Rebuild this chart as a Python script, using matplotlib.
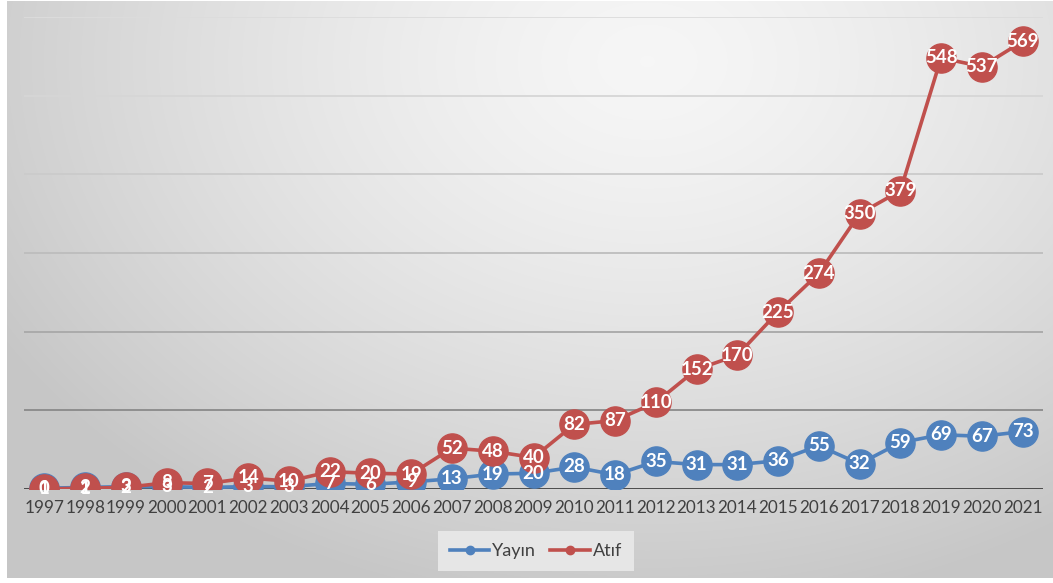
import numpy as np
import matplotlib.pyplot as plt

years = [str(y) for y in range(1997, 2022)]
yayin = [1, 2, 3, 3, 2, 3, 3, 7, 6, 9, 13, 19, 20, 28, 18, 35, 31, 31, 36, 55, 32, 59, 69, 67, 73]
atif = [0, 1, 2, 8, 7, 14, 10, 22, 20, 19, 52, 48, 40, 82, 87, 110, 152, 170, 225, 274, 350, 379, 548, 537, 569]

blue = '#4F81BD'
red = '#C0504D'
plt.rcParams['font.family'] = ['Lato', 'DejaVu Sans']

W, H = 1053, 583
fig = plt.figure(figsize=(W / 100, H / 100), dpi=100)
fig.patch.set_facecolor('white')

# radial grey background of the chart area
bg = fig.add_axes([7 / W, 5 / H, (W - 7) / W, (H - 6) / H])
yy, xx = np.mgrid[0:H - 6, 0:W - 7]
r = np.sqrt(((xx - 640) / 760.0) ** 2 + ((yy - 60) / 560.0) ** 2)
shade = np.clip(0.965 - 0.19 * r ** 1.4, 0.78, 0.97)
bg.imshow(np.dstack([shade] * 3), aspect='auto', interpolation='bilinear')
bg.axis('off')

ax = fig.add_axes([24 / W, 94 / H, 1019 / W, 472 / H])
ax.set_facecolor('none')
x = np.arange(len(years))
ax.set_xlim(-0.5, len(years) - 0.5)
ax.set_ylim(0, 600)

grid_colors = ['#8a8a8a', '#a8a8a8', '#bdbdbd', '#cbcbcb', '#d6d6d6', '#dcdcdc']
for v, c in zip(range(100, 700, 100), grid_colors):
    ax.axhline(v, color=c, lw=1.3, zorder=1)
ax.axhline(0, color='#404040', lw=1.3, zorder=1)

ax.plot(x, yayin, color=blue, lw=2.6, marker='o', ms=21, label='Yayın', zorder=3)
ax.plot(x, atif, color=red, lw=2.6, marker='o', ms=21, label='Atıf', zorder=4)
for xi, v in zip(x, yayin):
    ax.text(xi, v, str(v), color='white', fontsize=13.5, fontweight='bold',
            ha='center', va='center', zorder=5)
for xi, v in zip(x, atif):
    ax.text(xi, v, str(v), color='white', fontsize=13.5, fontweight='bold',
            ha='center', va='center', zorder=6)

ax.set_xticks(x)
ax.set_xticklabels(years, fontsize=12.3, color='#404040')
ax.tick_params(axis='x', length=0, pad=8)
ax.set_yticks([])
for s in ax.spines.values():
    s.set_visible(False)

leg_handles = [
    plt.Line2D([], [], color=blue, lw=2.6, marker='o', ms=6),
    plt.Line2D([], [], color=red, lw=2.6, marker='o', ms=6),
]
leg = fig.legend(leg_handles, ['Yayın', 'Atıf'], loc='center', bbox_to_anchor=(536 / W, 1 - 551 / H),
                 ncol=2, frameon=True, fontsize=13, handlelength=2.2, handletextpad=0.15,
                 columnspacing=0.8, borderpad=0.35)
leg.get_frame().set_facecolor('#e6e6e6')
leg.get_frame().set_edgecolor('none')
leg.get_frame().set_alpha(1)
leg.get_frame().set_boxstyle('square', pad=0.3)
for t in leg.get_texts():
    t.set_color('#404040')

fig.savefig('out.png', dpi=100)
